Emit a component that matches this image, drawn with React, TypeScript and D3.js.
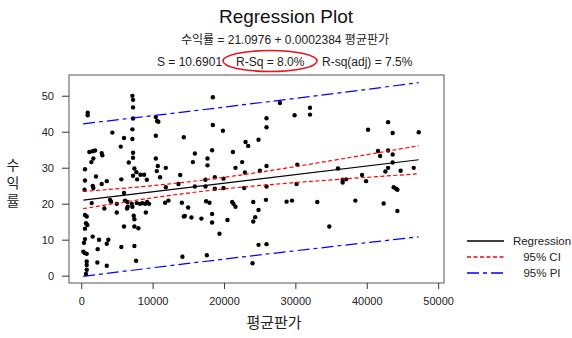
import * as d3 from 'd3';

// scatter data: 평균판가 (x) and 수익률 (y)
const priceValues = [
  840, 840, 4290, 5930, 5470, 1070, 1870, 1540, 2800, 2890, 1630, 1350, 6590, 460, 2000, 5550, 460, 3510,
  2800, 1540, 1630, 400, 5930, 3970, 4110, 1400, 4910, 6070, 6400, 3170, 4910, 460, 700, 600, 790, 460,
  5930, 1540, 460, 320, 2430, 3730, 3510, 230, 460, 700, 2240, 5550, 700, 700, 2190, 3510, 700, 600,
  7100, 7190, 7190, 7190, 10380, 10560, 10740, 7100, 10380, 7100, 14300, 7190, 10380, 7190, 10660, 11780,
  7380, 10520, 7660, 8220, 7190, 8740, 10980, 7760, 9120, 11780, 13550, 7710, 8180, 8500, 8880, 9160,
  9440, 7010, 7100, 6450, 6350, 11680, 12150, 14030, 8980, 7290, 7380, 7380, 7940, 14300, 7380, 14110, 7620,
  18370, 18370, 19780, 22950, 23320, 18270, 15850, 21180, 17620, 15570, 22480, 17620, 21540, 22860, 13800,
  18650, 19860, 17340, 15850, 17340, 18650, 19860, 22760, 14910, 17430, 17900, 21080, 21260, 21540, 18270,
  14450, 15370, 16770, 18270, 20420, 19300, 17530,
  27770, 31980, 31980, 29820, 25890, 25890, 24770, 24960, 25890, 30200, 25890, 30100, 24030, 25810, 28700,
  29450, 33000, 24770, 24300, 24030, 24770, 25890, 23930,
  40110, 41510, 41800, 35900, 39270, 36550, 37030, 36550, 39830, 38330, 34680,
  42920, 43560, 47210, 42920, 43560, 43560, 42920, 42540, 44680, 46510, 43700, 44040, 44220, 42300, 44220,
];
const returnValues = [
  45.4, 44.7, 39.9, 38.4, 36.0, 34.5, 34.9, 34.7, 34.2, 33.6, 32.7, 31.7, 31.6, 29.7, 27.7, 26.9, 26.6, 26.4,
  25.6, 25.1, 24.5, 24.0, 23.1, 21.2, 20.7, 20.3, 20.1, 21.0, 20.6, 18.8, 17.7, 17.0, 16.6, 14.7, 14.2, 13.2,
  13.8, 11.0, 10.3, 9.3, 10.1, 10.1, 9.0, 6.8, 6.4, 6.2, 7.5, 8.1, 4.1, 3.1, 3.8, 2.9, 1.8, 0.6,
  50.1, 49.0, 46.9, 43.8, 44.2, 43.1, 42.9, 40.8, 39.0, 38.1, 38.6, 34.3, 32.7, 32.9, 30.6, 30.1,
  29.9, 29.2, 28.9, 28.2, 27.9, 28.2, 27.5, 26.9, 26.8, 24.7, 25.6, 20.3, 20.1, 20.3, 20.1, 20.6,
  20.1, 20.1, 19.3, 19.3, 18.8, 20.4, 21.0, 20.4, 17.7, 16.8, 15.8, 13.8, 13.3, 16.6, 8.4, 5.4, 4.3,
  49.7, 42.0, 40.4, 37.3, 36.2, 35.0, 34.1, 34.5, 32.7, 31.7, 31.7, 30.8, 30.1, 28.8, 28.1,
  27.5, 27.1, 26.8, 24.9, 24.9, 24.3, 24.5, 24.5, 19.1, 20.8, 20.4, 20.6, 20.1, 19.3, 17.3,
  16.7, 16.3, 16.0, 14.9, 15.6, 11.8, 5.8,
  48.1, 46.8, 44.9, 44.7, 43.9, 41.4, 37.9, 29.3, 30.6, 31.0, 24.9, 25.6, 20.6, 21.2, 20.7,
  21.0, 20.6, 18.4, 16.4, 15.2, 8.7, 8.9, 3.6,
  40.7, 34.8, 33.4, 29.9, 28.1, 26.8, 26.9, 26.0, 26.4, 21.0, 13.8,
  42.8, 39.8, 40.0, 34.9, 33.8, 31.6, 30.1, 29.1, 29.3, 30.1, 24.7, 24.3, 24.0, 20.2, 18.1,
];

// fitted line (from the equation in the title)
const intercept = 21.0976;
const slope = 0.0002384;

// confidence / prediction bands, read at a few x positions
const bandX = [200, 10000, 20000, 30000, 40000, 47200];
const ciUpper = [23.53, 25.17, 27.48, 30.48, 33.79, 36.25];
const ciLower = [18.76, 21.79, 24.26, 26.02, 27.47, 28.45];
const piUpper = [42.34, 44.61, 46.99, 49.43, 51.93, 53.77];
const piLower = [-0.05, 2.35, 4.75, 7.07, 9.33, 10.93];

const xTicks = [0, 10000, 20000, 30000, 40000, 50000];
const yTicks = [0, 10, 20, 30, 40, 50];

const legendItems = [
  { label: 'Regression', color: '#000', dash: '' },
  { label: '95% CI', color: '#ff0000', dash: '4,2.5' },
  { label: '95% PI', color: '#0000ff', dash: '12,4,4,4' },
];

const latin = 'Liberation Sans, Arial, sans-serif';
const korean = 'Liberation Sans, Noto Sans CJK KR, sans-serif';

export default function App() {
  const width = 572;
  const height = 338;

  const left = 69, right = 444, top = 75, bottom = 283;
  const x = d3.scaleLinear().domain([-1780, 50750]).range([left, right]);
  const y = d3.scaleLinear().domain([-1.9, 55.9]).range([bottom, top]);

  const xMin = d3.min(priceValues) as number;
  const xMax = d3.max(priceValues) as number;

  const fitLine = d3.line<number>()
    .x(d => x(d))
    .y(d => y(intercept + slope * d))([xMin, xMax]);

  const band = (vals: number[]) =>
    d3.line<number>()
      .x((d, i) => x(bandX[i]))
      .y(d => y(d))
      .curve(d3.curveNatural)(vals) as string;

  return (
    <svg width={width} height={height} style={{ position: 'absolute', left: 0, top: 0, background: '#fff' }}>
      <text x={286} y={23} textAnchor="middle" fontFamily={latin} fontSize={19} fill="#111">
        Regression Plot
      </text>
      <text x={285} y={44} textAnchor="middle" fontFamily={korean} fontSize={12} fill="#222">
        수익률 = 21.0976 + 0.0002384 평균판가
      </text>
      <text x={157} y={66} fontFamily={latin} fontSize={12} fill="#222">S = 10.6901</text>
      <text x={236} y={66} fontFamily={latin} fontSize={12} fill="#222">R-Sq = 8.0%</text>
      <text x={322} y={66} fontFamily={latin} fontSize={12} fill="#222">R-sq(adj) = 7.5%</text>
      <ellipse cx={270} cy={61} rx={47} ry={10.5} fill="none" stroke="#e8141c" strokeWidth={1.6} />

      {/* plot frame */}
      <rect x={left} y={top} width={right - left} height={bottom - top} fill="#fff" stroke="#555" strokeWidth={1} />

      {/* x axis */}
      {xTicks.map(t => (
        <g key={'x' + t}>
          <line x1={x(t)} x2={x(t)} y1={bottom} y2={bottom + 6} stroke="#333" />
          <text x={x(t)} y={305} textAnchor="middle" fontFamily={latin} fontSize={11} fill="#222">{t}</text>
        </g>
      ))}
      {/* y axis */}
      {yTicks.map(t => (
        <g key={'y' + t}>
          <line x1={left - 7} x2={left} y1={y(t)} y2={y(t)} stroke="#333" />
          <text x={54} y={y(t) + 4} textAnchor="end" fontFamily={latin} fontSize={11} fill="#222">{t}</text>
        </g>
      ))}

      <text x={274} y={328} textAnchor="middle" fontFamily={korean} fontSize={15} fill="#222">평균판가</text>
      {['수', '익', '률'].map((c, i) => (
        <text key={c} x={13} y={170 + i * 18} textAnchor="middle" fontFamily={korean} fontSize={14} fill="#222">{c}</text>
      ))}

      {/* points */}
      {priceValues.map((p, i) => (
        <circle key={i} cx={x(p)} cy={y(returnValues[i])} r={2.2} fill="#000" />
      ))}

      {/* bands and fit */}
      <path d={band(piUpper)} fill="none" stroke="#0000ff" strokeWidth={1.2} strokeDasharray="12,4,4,4" />
      <path d={band(piLower)} fill="none" stroke="#0000ff" strokeWidth={1.2} strokeDasharray="12,4,4,4" />
      <path d={band(ciUpper)} fill="none" stroke="#ff0000" strokeWidth={1.2} strokeDasharray="4,2.5" />
      <path d={band(ciLower)} fill="none" stroke="#ff0000" strokeWidth={1.2} strokeDasharray="4,2.5" />
      <path d={fitLine as string} fill="none" stroke="#000" strokeWidth={1.2} />

      {/* legend */}
      {legendItems.map((item, i) => (
        <g key={item.label} transform={`translate(0,${241 + i * 16})`}>
          <line x1={467} x2={504} y1={0} y2={0} stroke={item.color} strokeWidth={1.3} strokeDasharray={item.dash} />
          <text x={542} y={4} textAnchor="middle" fontFamily={latin} fontSize={11.5} fill="#222">{item.label}</text>
        </g>
      ))}
    </svg>
  );
}
